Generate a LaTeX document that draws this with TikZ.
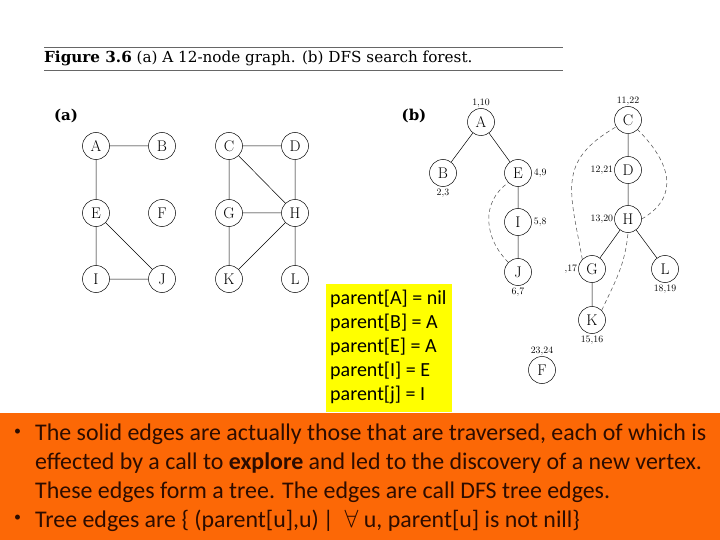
\documentclass[tikz,border=0pt]{standalone}
\usepackage{fontspec}
\usepackage{amssymb}
\newfontfamily\slidefont{Carlito}
\newfontfamily\bookfont{DejaVu Serif}
\usetikzlibrary{positioning}
\definecolor{bandorange}{RGB}{252,104,6}
\definecolor{noteyellow}{RGB}{255,255,0}
\definecolor{bandtext}{RGB}{45,12,0}

\tikzset{
    vertex/.style={circle, draw, line width=0.5pt, minimum size=27pt, inner sep=0pt,
        font=\fontsize{15.5}{15}\selectfont},
    stamp/.style={inner sep=1pt, font=\fontsize{9.8}{10}\selectfont},
    tree/.style={line width=0.5pt},
    back/.style={line width=0.5pt, dash pattern=on 4pt off 3pt, black!70},
    slide/.style={inner sep=0pt, anchor=north west, align=left, text=bandtext,
        font=\slidefont\fontsize{23.9}{29}\selectfont}
}

\begin{document}
\begin{tikzpicture}[x=1pt, y=-1pt]
    \useasboundingbox (0,0) rectangle (720,540);
    \fill[white] (0,0) rectangle (720,540);

    % caption
    \draw[line width=0.8pt, black!60] (44,47) -- (563,47);
    \draw[line width=0.8pt, black!60] (44,70) -- (563,70);
    \node[anchor=base west, inner sep=0pt, font=\bookfont\fontsize{15.2}{16}\selectfont] (caption) at (44,63)
        {\textbf{Figure 3.6} (a) A 12-node graph. (b) DFS search forest.};

    % (a) the graph
    \node[font=\bookfont\bfseries\fontsize{15}{16}\selectfont] (tagA) at (66,116) {(a)};
    \node[vertex] (a) at (96,146) {A};
    \node[vertex] (b) at (162,146) {B};
    \node[vertex] (e) at (96,213) {E};
    \node[vertex] (f) at (162,213) {F};
    \node[vertex] (i) at (96,279) {I};
    \node[vertex] (j) at (162,279) {J};
    \node[vertex] (c) at (229,146) {C};
    \node[vertex] (d) at (295,146) {D};
    \node[vertex] (g) at (229,213) {G};
    \node[vertex] (h) at (295,213) {H};
    \node[vertex] (k) at (229,279) {K};
    \node[vertex] (l) at (295,279) {L};

    \draw[tree] (a) -- (b) (a) -- (e) (e) -- (i) (e) -- (j) (i) -- (j);
    \draw[tree] (c) -- (d) (c) -- (g) (c) -- (h) (d) -- (h) (g) -- (h)
        (g) -- (k) (k) -- (h) (h) -- (l);

    % (b) the DFS forest
    \node[font=\bookfont\bfseries\fontsize{15}{16}\selectfont] (tagB) at (414,116) {(b)};
    \node[vertex] (tA) at (481,122) {A};
    \node[vertex] (tB) at (443,173) {B};
    \node[vertex] (tE) at (518,173) {E};
    \node[vertex] (tI) at (518,222) {I};
    \node[vertex] (tJ) at (518,272) {J};
    \node[vertex] (tC) at (628,120) {C};
    \node[vertex] (tD) at (628,170) {D};
    \node[vertex] (tH) at (628,219) {H};
    \node[vertex] (tG) at (592,269) {G};
    \node[vertex] (tL) at (665,269) {L};
    \node[vertex] (tK) at (592,320) {K};
    \node[vertex] (tF) at (542,370) {F};

    \node[stamp, above=0pt of tA] (sA) {1,10};
    \node[stamp, below=1pt of tB] (sB) {2,3};
    \node[stamp, right=1pt of tE] (sE) {4,9};
    \node[stamp, right=1pt of tI] (sI) {5,8};
    \node[stamp, below=1pt of tJ] (sJ) {6,7};
    \node[stamp, above=0pt of tC] (sC) {11,22};
    \node[stamp, left=0pt of tD] (sD) {12,21};
    \node[stamp, left=0pt of tH] (sH) {13,20};
    \node[stamp, left=0pt of tG] (sG) {,17};
    \node[stamp, below=1pt of tL] (sL) {18,19};
    \node[stamp, below=1pt of tK] (sK) {15,16};
    \node[stamp, above=0pt of tF] (sF) {23,24};

    \draw[tree] (tA) -- (tB) (tA) -- (tE) (tE) -- (tI) (tI) -- (tJ);
    \draw[tree] (tC) -- (tD) (tD) -- (tH) (tH) -- (tG) (tH) -- (tL) (tG) -- (tK);

    \draw[back] (tJ.north west) to[out=135, in=215, looseness=1.1] (tE.south west);
    \draw[back] (tG.north west) to[out=100, in=210, looseness=1.3] (tC.210);
    \draw[back] (tH.east) to[out=30, in=-45, looseness=1.3] (tC.south east);
    \draw[back] (tK.north east) to[out=65, in=-95] (tH.south);

    % parent list
    \node[fill=noteyellow, anchor=north west, minimum width=126pt, minimum height=128pt,
        inner sep=0pt] (note) at (326,284) {};
    \node[anchor=north west, inner sep=0pt, align=left,
        font=\slidefont\fontsize{20}{24}\selectfont] (noteText) at (330,290)
        {parent[A] = nil\\ parent[B] = A\\ parent[E] = A\\ parent[I] = E\\ parent[j] = I};

    % bottom band
    \fill[bandorange] (0,413) rectangle (720,540);
    \node[slide, font=\slidefont\fontsize{14}{29}\selectfont] (dotOne) at (14,429) {\textbullet};
    \node[slide] (itemOne) at (35,424)
        {The solid edges are actually those that are traversed, each of which is\\
         effected by a call to \textbf{explore} and led to the discovery of a new vertex.\\
         These edges form a tree. The edges are call DFS tree edges.};
    \node[slide, font=\slidefont\fontsize{14}{29}\selectfont] (dotTwo) at (14,515) {\textbullet};
    \node[slide] (itemTwo) at (35,510)
        {Tree edges are \{ (parent[u],u)\,\textbar\ \ $\forall$ u, parent[u] is not nill\}};
\end{tikzpicture}
\end{document}
